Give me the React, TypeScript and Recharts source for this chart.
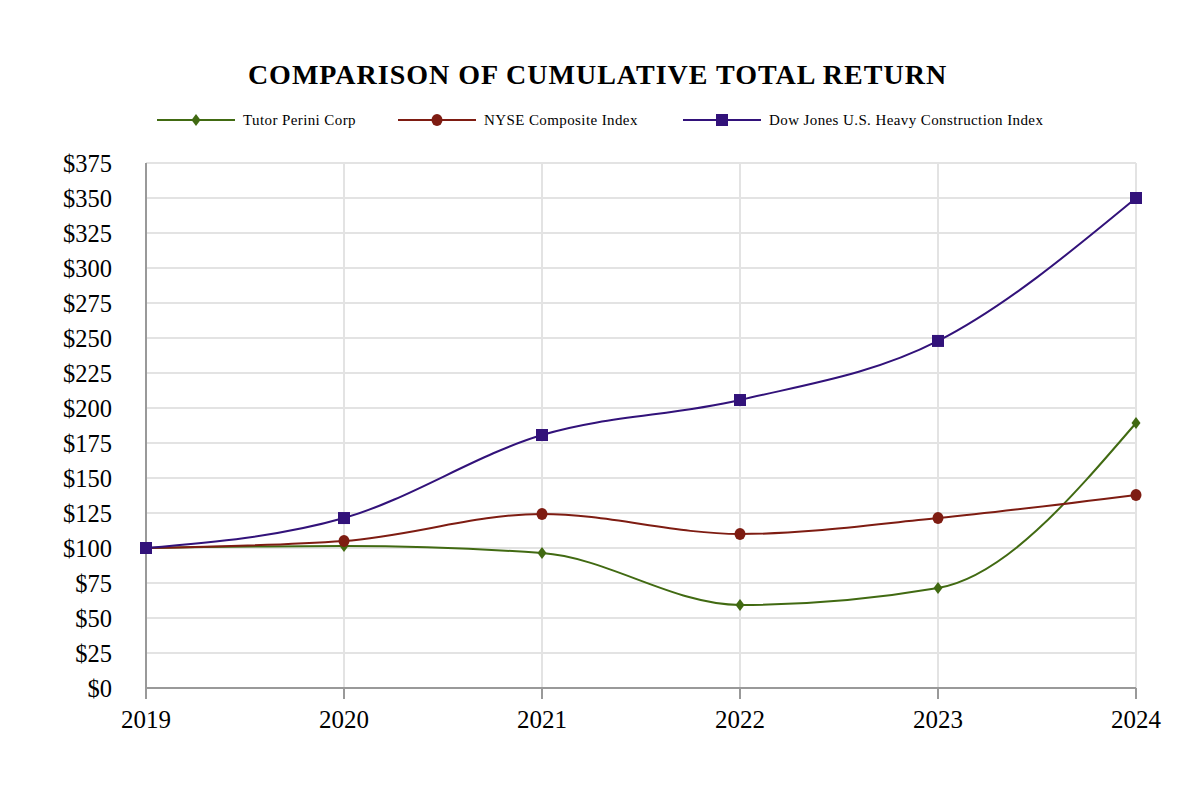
import React from 'react';
import { LineChart, Line, XAxis, YAxis, CartesianGrid, Legend } from 'recharts';

const YEARS = [2019, 2020, 2021, 2022, 2023, 2024];
const TUTOR_PERINI = [100, 101.4, 96.4, 59.3, 71.4, 189.3];
const NYSE_COMPOSITE = [100, 105, 124.3, 110, 121.4, 137.9];
const DOW_JONES_HEAVY = [100, 121.4, 180.7, 205.7, 247.9, 350];
const Y_TICKS = [0, 25, 50, 75, 100, 125, 150, 175, 200, 225, 250, 275, 300, 325, 350, 375];

const GREEN = '#416a12';
const RED = '#7e1c12';
const PURPLE = '#32127a';
const FONT = '"Liberation Serif", "Times New Roman", serif';

const data = YEARS.map((year, i) => ({
  year,
  tutor: TUTOR_PERINI[i],
  nyse: NYSE_COMPOSITE[i],
  dow: DOW_JONES_HEAVY[i],
}));

type Shape = 'diamond' | 'circle' | 'square';

const Marker = ({ cx, cy, shape, color }: { cx: number; cy: number; shape: Shape; color: string }) => {
  if (shape === 'diamond') {
    return <polygon points={`${cx},${cy - 6} ${cx + 4.5},${cy} ${cx},${cy + 6} ${cx - 4.5},${cy}`} fill={color} />;
  }
  if (shape === 'circle') {
    return <ellipse cx={cx} cy={cy} rx={5.5} ry={6} fill={color} />;
  }
  return <rect x={cx - 6} y={cy - 6} width={12} height={12} fill={color} />;
};

const makeDot = (shape: Shape, color: string) => (props: any) => {
  const { cx, cy, index } = props;
  if (cx == null || cy == null) return <g key={index} />;
  return <Marker key={index} cx={cx} cy={cy} shape={shape} color={color} />;
};

const LEGEND_ITEMS = [
  { label: 'Tutor Perini Corp', shape: 'diamond' as Shape, color: GREEN, left: 157 },
  { label: 'NYSE Composite Index', shape: 'circle' as Shape, color: RED, left: 398 },
  { label: 'Dow Jones U.S. Heavy Construction Index', shape: 'square' as Shape, color: PURPLE, left: 683 },
];

// height 0 so the legend doesn't push the plot area around
const CustomLegend = () => (
  <div style={{ position: 'relative', width: 1200, height: 0 }}>
    {LEGEND_ITEMS.map((item) => (
      <div
        key={item.label}
        style={{ position: 'absolute', left: item.left, top: 0, display: 'flex', alignItems: 'center', height: 24 }}
      >
        <svg width={80} height={24}>
          <line x1={0} y1={12} x2={78} y2={12} stroke={item.color} strokeWidth={2} />
          <Marker cx={39} cy={12} shape={item.shape} color={item.color} />
        </svg>
        <span style={{ marginLeft: 6, fontFamily: FONT, fontSize: 15, letterSpacing: 0.4, color: '#000', whiteSpace: 'nowrap' }}>
          {item.label}
        </span>
      </div>
    ))}
  </div>
);

export default function App() {
  return (
    <div style={{ position: 'absolute', left: 0, top: 0, width: 1200, height: 800, background: '#fff' }}>
      <div
        style={{
          position: 'absolute',
          top: 59,
          width: 1195,
          textAlign: 'center',
          fontFamily: FONT,
          fontWeight: 'bold',
          fontSize: 28,
          letterSpacing: 1,
          color: '#000',
        }}
      >
        COMPARISON OF CUMULATIVE TOTAL RETURN
      </div>
      <LineChart width={1200} height={800} data={data} margin={{ top: 163, right: 64, bottom: 0, left: 0 }}>
        <CartesianGrid stroke="#e3e3e3" strokeWidth={2} />
        <XAxis
          dataKey="year"
          type="number"
          domain={[2019, 2024]}
          ticks={YEARS}
          height={112}
          stroke="#999"
          strokeWidth={2}
          tickSize={11}
          tickMargin={11}
          tick={{ fill: '#000', fontFamily: FONT, fontSize: 25 }}
        />
        <YAxis
          domain={[0, 375]}
          ticks={Y_TICKS}
          width={146}
          stroke="#999"
          strokeWidth={2}
          tickLine={false}
          tickSize={0}
          tickMargin={34}
          interval={0}
          tickFormatter={(v: number) => `$${v}`}
          tick={{ fill: '#000', fontFamily: FONT, fontSize: 24.5 }}
        />
        <Legend content={<CustomLegend />} wrapperStyle={{ top: 108, left: 0, width: 1200, height: 0 }} />
        <Line
          type="monotone"
          dataKey="tutor"
          name="Tutor Perini Corp"
          stroke={GREEN}
          strokeWidth={2}
          dot={makeDot('diamond', GREEN)}
          activeDot={false}
          isAnimationActive={false}
        />
        <Line
          type="monotone"
          dataKey="nyse"
          name="NYSE Composite Index"
          stroke={RED}
          strokeWidth={2}
          dot={makeDot('circle', RED)}
          activeDot={false}
          isAnimationActive={false}
        />
        <Line
          type="monotone"
          dataKey="dow"
          name="Dow Jones U.S. Heavy Construction Index"
          stroke={PURPLE}
          strokeWidth={2}
          dot={makeDot('square', PURPLE)}
          activeDot={false}
          isAnimationActive={false}
        />
      </LineChart>
    </div>
  );
}
